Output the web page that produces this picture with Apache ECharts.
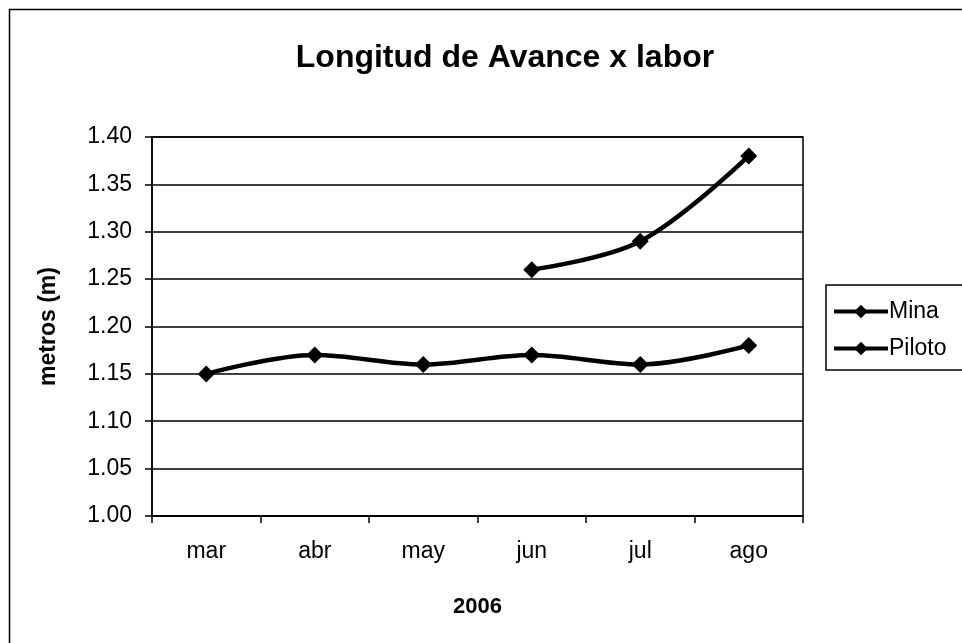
<!DOCTYPE html>
<html>
<head>
<meta charset="utf-8">
<script src="https://cdn.jsdelivr.net/npm/echarts@6/dist/echarts.min.js"></script>
<style>
  html, body { margin: 0; padding: 0; background: #fff; }
  #chart { width: 962px; height: 643px; }
</style>
</head>
<body>
<div id="chart"></div>
<script>
// Monthly advance length per heading, 2006
const months = ['mar', 'abr', 'may', 'jun', 'jul', 'ago'];
const mina = [1.15, 1.17, 1.16, 1.17, 1.16, 1.18];
const piloto = [null, null, null, 1.26, 1.29, 1.38];
const seriesNames = ['Mina', 'Piloto'];

const FONT = '"Liberation Sans", Arial, sans-serif';
const chart = echarts.init(document.getElementById('chart'));

function lineSeries(name, data) {
  return {
    name: name,
    type: 'line',
    data: data,
    smooth: 0.35,
    connectNulls: false,
    symbol: 'diamond',
    symbolSize: 17,
    showAllSymbol: true,
    itemStyle: { color: '#000' },
    lineStyle: { color: '#000', width: 4.5 },
    emphasis: { disabled: true }
  };
}

chart.setOption({
  animation: false,
  backgroundColor: '#fff',
  graphic: [{
    type: 'rect',
    shape: { x: 9.5, y: 9.5, width: 1000, height: 700 },
    style: { fill: 'none', stroke: '#000', lineWidth: 1.5 },
    silent: true, z: -1
  }],
  title: {
    text: 'Longitud de Avance x labor',
    left: 500, top: 37, textAlign: 'center',
    textStyle: { fontFamily: FONT, fontWeight: 'bold', fontSize: 32, color: '#000' }
  },
  legend: {
    data: seriesNames,
    orient: 'vertical',
    left: 826, top: 285,
    itemWidth: 54, itemHeight: 17, itemGap: 14,
    padding: [15, 20, 10, 6],
    borderColor: '#000', borderWidth: 1.5,
    lineStyle: { width: 4 },
    textStyle: { fontFamily: FONT, fontSize: 23, color: '#000', padding: [0, 0, 0, -4] }
  },
  grid: {
    left: 152, right: 159, top: 137, bottom: 127,
    show: true, borderColor: '#000', borderWidth: 1.5, backgroundColor: 'transparent'
  },
  xAxis: {
    type: 'category',
    data: months,
    boundaryGap: true,
    name: '2006',
    nameLocation: 'middle',
    nameGap: 80,
    nameTextStyle: { fontFamily: FONT, fontWeight: 'bold', fontSize: 22, color: '#000' },
    axisLine: { lineStyle: { color: '#000', width: 1.5 } },
    axisTick: { show: true, length: 7, lineStyle: { color: '#000', width: 1.5 } },
    axisLabel: { fontFamily: FONT, fontSize: 23, color: '#000', margin: 24 }
  },
  yAxis: {
    type: 'value',
    min: 1.0, max: 1.4, interval: 0.05,
    name: 'metros (m)',
    nameLocation: 'middle',
    nameGap: 92,
    nameTextStyle: { fontFamily: FONT, fontWeight: 'bold', fontSize: 23, color: '#000' },
    axisLine: { show: true, lineStyle: { color: '#000', width: 1.5 } },
    axisTick: { show: true, length: 7, lineStyle: { color: '#000', width: 1.5 } },
    axisLabel: {
      fontFamily: FONT, fontSize: 23, color: '#000', margin: 20,
      formatter: v => v.toFixed(2)
    },
    splitLine: { show: true, lineStyle: { color: '#000', width: 1.5 } }
  },
  series: [lineSeries('Mina', mina), lineSeries('Piloto', piloto)]
});
</script>
</body>
</html>
